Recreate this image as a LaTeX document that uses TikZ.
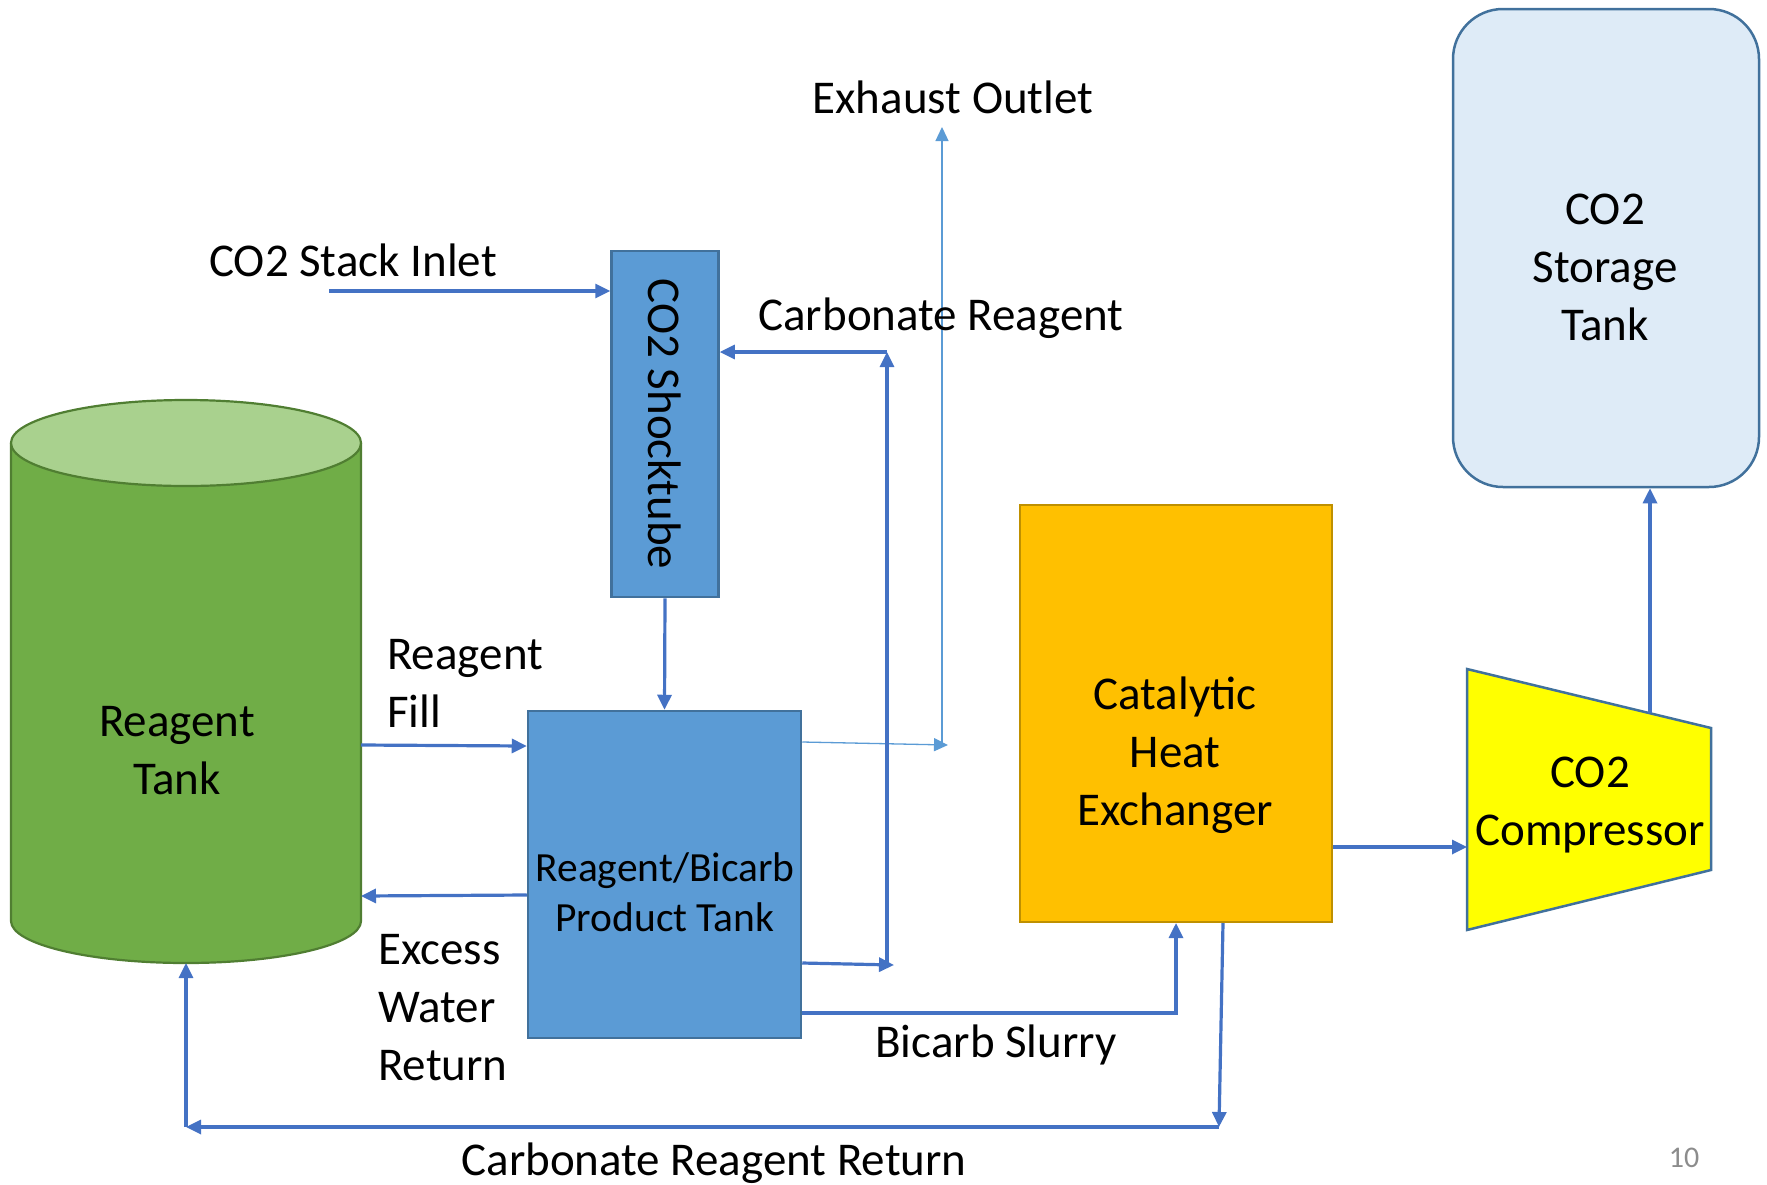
\documentclass[tikz,border=0pt]{standalone}
\usepackage{fontspec}
\setmainfont{Carlito}
\usepackage{graphicx}
\usetikzlibrary{arrows.meta,calc}
\definecolor{flow}{HTML}{4472C4}
\definecolor{thinflow}{HTML}{5B9BD5}
\definecolor{boxblue}{HTML}{5B9BD5}
\definecolor{boxedge}{HTML}{41719C}
\definecolor{tankbody}{HTML}{70AD47}
\definecolor{tanktop}{HTML}{A9D18E}
\definecolor{tankedge}{HTML}{507E32}
\definecolor{hxfill}{HTML}{FFC000}
\definecolor{hxedge}{HTML}{BF9000}
\definecolor{compfill}{HTML}{FFFF00}
\definecolor{storfill}{HTML}{DEEBF7}
\definecolor{pagenum}{HTML}{8C8C8C}
\begin{document}
\begin{tikzpicture}[x=1pt,y=-1pt,
  big/.style={font=\fontsize{47}{58}\selectfont, inner sep=0pt},
  mid/.style={font=\fontsize{41.5}{50}\selectfont, inner sep=0pt},
  flowline/.style={draw=flow, line width=3.2pt, -{Triangle[length=15pt,width=14pt]}},
  thinline/.style={draw=thinflow, line width=1.3pt, -{Triangle[length=14pt,width=13pt]}},
  bluebox/.style={draw=boxedge, fill=boxblue, line width=2.5pt, inner sep=0pt},
  ghost/.style={inner sep=0pt, outer sep=0pt}
]
\useasboundingbox (0,0) rectangle (1767,1184);

% Reagent tank (cylinder)
\fill[tankbody] (11,443) -- (11,921) arc[start angle=180,end angle=360,x radius=175pt,y radius=42pt] -- (361,443) -- cycle;
\draw[tankedge, line width=2.2pt] (11,443) -- (11,921) arc[start angle=180,end angle=360,x radius=175pt,y radius=42pt] -- (361,443);
\draw[tankedge, fill=tanktop, line width=2.2pt] (186,443) ellipse [x radius=175pt, y radius=43pt];
\node[ghost, minimum width=350pt, minimum height=563pt] (rt) at (186,681.5) {};
\node[big, align=center] (rtlbl) at (177,751) {Reagent\\Tank};

% CO2 Shocktube
\node[bluebox, minimum width=107pt, minimum height=346pt, font=\fontsize{47}{58}\selectfont] (shock) at (665,424) {\rotatebox{-90}{CO2 Shocktube}};

% Product tank
\node[bluebox, minimum width=273pt, minimum height=327pt] (pt) at (664.5,874.5) {};
\node[mid, align=center] (ptlbl) at (665,892) {Reagent/Bicarb\\Product Tank};

% Heat exchanger
\node[draw=hxedge, fill=hxfill, line width=2pt, minimum width=312pt, minimum height=417pt, inner sep=0pt] (hx) at (1176,713.5) {};
\node[big, align=center] (hxlbl) at (1175,755) {Catalytic\\Heat\\Exchanger};

% Compressor
\draw[boxedge, fill=compfill, line width=2.5pt] (1467,669) -- (1711,728) -- (1711,870) -- (1467,930) -- cycle;
\coordinate (compW) at (1467,847);
\coordinate (compT) at (1650,713);
\node[big, align=center] (complbl) at (1590,805) {CO2\\Compressor};

% Storage tank
\node[draw=boxedge, fill=storfill, line width=2.5pt, rounded corners=50pt, minimum width=306pt, minimum height=478pt, inner sep=0pt] (st) at (1606,248) {};
\node[big, align=center] (stlbl) at (1605,267) {CO2\\Storage\\Tank};

% connectors
\coordinate (inlet) at (329,291);
\draw[flowline] (inlet) -- (shock.west |- inlet);
\draw[flowline] (shock.south) -- (pt.north);
\draw[flowline] (rt.east |- 0,745) -- (pt.west |- 0,746);
\draw[flowline] (pt.west |- 0,895) -- (rt.east |- 0,896);

\coordinate (exhjoin) at (948,745);
\coordinate (exhbase) at (942,745);
\coordinate (exh) at (942,127);
\draw[thinline] (pt.east |- 0,742) -- (exhjoin);
\draw[thinline] (exhbase) -- (exh);

\coordinate (crtip) at (894,965);
\coordinate (crb) at (887,965);
\coordinate (crt) at (887,352);
\draw[flowline] (pt.east |- 0,963) -- (crtip);
\draw[flowline] (crb) -- (crt);
\draw[flowline] (crt) -- (shock.east |- crt);

\coordinate (bs) at (1176,1013);
\draw[flowline] (pt.east |- bs) -- (bs) -- (hx.south);

\draw[flowline] (hx.east |- compW) -- (compW);
\draw[flowline] (compT) -- (compT |- st.south);

\coordinate (rr) at (1219,1127);
\coordinate (rl) at (186,1127);
\draw[flowline] (1223,0 |- hx.south) -- (rr);
\draw[flowline] (rr) -- (rl);
\draw[flowline] (rl) -- (rt.south);

% labels
\node[big, anchor=base] (lblinlet) at (353,276) {CO2 Stack Inlet};
\node[big, anchor=base] (lblexh) at (953,113) {Exhaust Outlet};
\node[big, anchor=base] (lblcr) at (941,330) {Carbonate Reagent};
\node[big, align=left, anchor=west] (lblfill) at (387,683.5) {Reagent\\Fill};
\node[big, align=left, anchor=west] (lblexw) at (378,1008) {Excess\\Water\\Return};
\node[big, anchor=base] (lblbs) at (996,1057) {Bicarb Slurry};
\node[big, anchor=base] (lblcrr) at (714,1175) {Carbonate Reagent Return};
\node[inner sep=0pt, anchor=base, text=pagenum, font=\fontsize{30}{36}\selectfont] (pgnum) at (1684,1167) {10};
\end{tikzpicture}
\end{document}
